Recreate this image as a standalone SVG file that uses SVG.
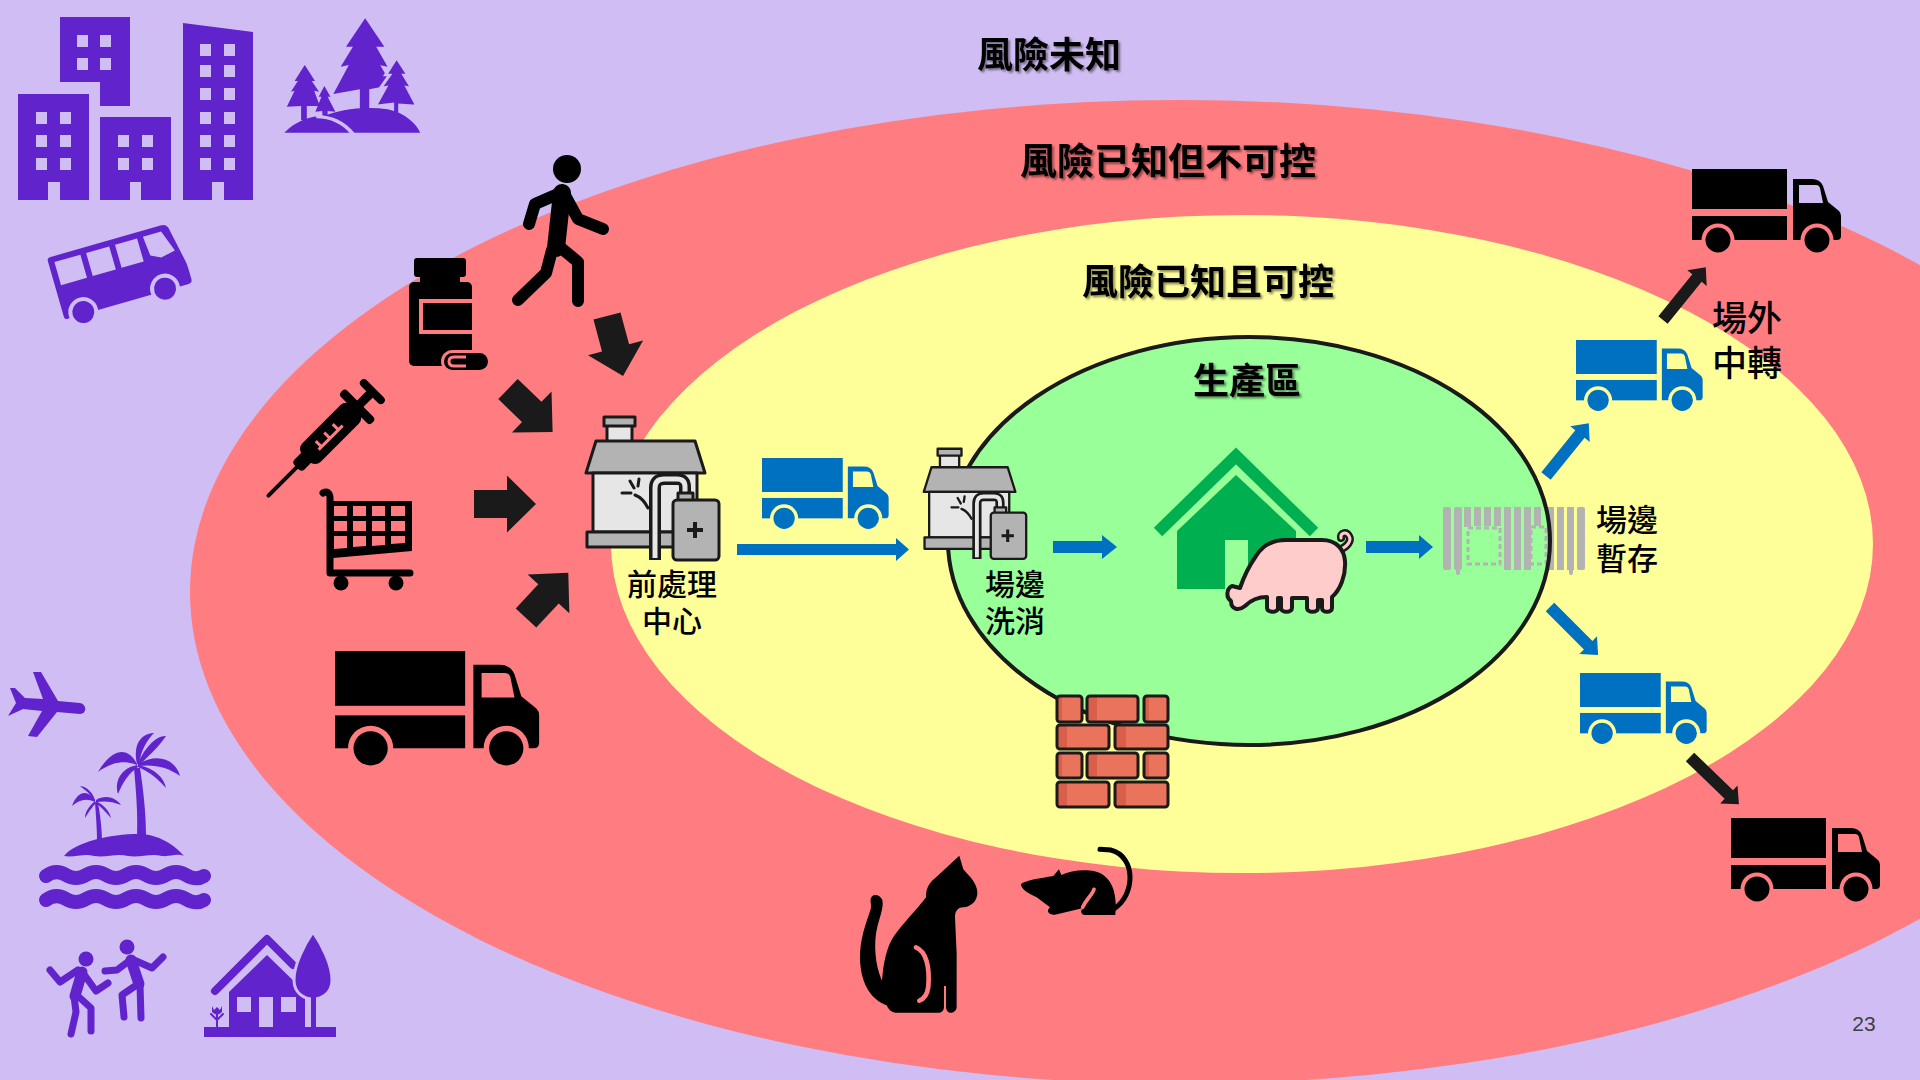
<svg xmlns="http://www.w3.org/2000/svg" width="1920" height="1080" viewBox="0 0 1920 1080">
<defs>
<style>
.zone-label{font-family:"Noto Sans CJK TC","Noto Sans CJK SC",sans-serif;font-weight:700;fill:#000;text-anchor:middle;filter:url(#soft-shadow)}
.node-label{font-family:"Noto Sans CJK TC","Noto Sans CJK SC",sans-serif;font-weight:500;fill:#000;text-anchor:middle}
.purple{fill:#6023cc}
.purple-line{fill:none;stroke:#6023cc;stroke-linecap:round;stroke-linejoin:round}
.lav{fill:#d0bdf3}
.ink{fill:#000}
.ink-line{fill:none;stroke:#000;stroke-linecap:round;stroke-linejoin:round}
.blue{fill:#0070c0}
.dark{fill:#1a1a1a}
.brick{fill:url(#brick-fill);stroke:#1a1a1a;stroke-width:3}
</style>
<filter id="soft-shadow" x="-10%" y="-30%" width="130%" height="170%">
<feDropShadow dx="2" dy="2" stdDeviation="1.3" flood-color="#000" flood-opacity="0.45"/>
</filter>
<linearGradient id="brick-fill" x1="0" y1="0" x2="1" y2="0">
<stop offset="0" stop-color="#d95f4b"/><stop offset="0.2" stop-color="#d95f4b"/>
<stop offset="0.2" stop-color="#ea735c"/><stop offset="1" stop-color="#ea735c"/>
</linearGradient>
<!-- truck: window and wheel wells are cut out so the ground shows through -->
<mask id="truck-cut" maskUnits="userSpaceOnUse" x="-20" y="-20" width="200" height="120">
<rect x="-20" y="-20" width="200" height="120" fill="#fff"/>
<path d="M107,16 H124 Q127,16 128,19 L131,34 H107 Z" fill="#000"/>
<circle cx="26" cy="71" r="16.5" fill="#000"/>
<circle cx="125" cy="71" r="16.5" fill="#000"/>
</mask>
<g id="truck">
<g mask="url(#truck-cut)">
<rect x="0" y="0" width="95" height="40"/>
<rect x="0" y="47" width="95" height="24"/>
<path d="M101,10 H120 Q128,10 131,17 L136,33 L147,42 Q149,44 149,47 V67 Q149,71 145,71 H101 Z"/>
</g>
<circle cx="26" cy="71" r="12.5"/>
<circle cx="125" cy="71" r="12.5"/>
</g>
<!-- disinfection station: house with spray tank -->
<g id="clinic" stroke="#1a1a1a" stroke-width="3" stroke-linejoin="round">
<rect x="22" y="9" width="25" height="25" fill="#e6e6e6"/>
<rect x="19" y="1" width="31" height="9" fill="#b3b3b3"/>
<polygon points="1,57 11,25 110,25 120,57" fill="#b3b3b3"/>
<rect x="8" y="57" width="104" height="59" fill="#e6e6e6"/>
<rect x="2" y="116" width="116" height="15" fill="#b3b3b3"/>
<path d="M70,144 V72 Q70,63 79,63 H92 Q100,63 100,71 V80" fill="none" stroke-width="12"/>
<path d="M70,142 V72 Q70,63 79,63 H92 Q100,63 100,71 V80" fill="none" stroke="#e6e6e6" stroke-width="5"/>
<path d="M45,65 L49,72 M37,77 L46,77 M54,63 L53,70 M50,79 Q58,82 63,92" fill="none" stroke-linecap="round"/>
<rect x="93" y="77" width="15" height="8" fill="#b3b3b3"/>
<rect x="88" y="84" width="46" height="60" rx="4" fill="#b3b3b3"/>
<path d="M110,106 V122 M102,114 H118" fill="none" stroke-width="4"/>
</g>
<path id="big-arrow" d="M0,-14 H33 V-28.5 L62,0 L33,28.5 V14 H0 Z"/>
<path id="thin-arrow" d="M0,-6 H54 V-12.5 L68,0 L54,12.5 V6 H0 Z"/>
</defs>

<!-- risk zones -->
<rect width="1920" height="1080" fill="#d0bdf3"/>
<ellipse id="zone-unknown-known" cx="1180" cy="592" rx="990" ry="492" fill="#ff7c80"/>
<ellipse id="zone-controlled" cx="1242" cy="544" rx="631" ry="329" fill="#ffff99"/>
<ellipse id="zone-production-fill" cx="1249" cy="541" rx="301" ry="204" fill="#99ff99"/>

<!-- holding fence -->
<g id="holding-fence" fill="#b3b3b3">
<rect x="1443" y="507" width="8" height="63" rx="2"/>
<rect x="1454" y="507" width="8" height="63" rx="2"/>
<rect x="1456" y="565" width="4" height="10" rx="2"/>
<rect x="1464" y="507" width="7" height="20"/>
<rect x="1474" y="507" width="7" height="19"/>
<rect x="1484" y="507" width="7" height="19"/>
<rect x="1494" y="507" width="7" height="19"/>
<rect x="1504" y="507" width="7" height="63"/>
<rect x="1514" y="507" width="7" height="63"/>
<rect x="1524" y="507" width="7" height="63"/>
<rect x="1534" y="507" width="7" height="19"/>
<rect x="1547" y="507" width="7" height="63"/>
<rect x="1557" y="507" width="7" height="63"/>
<rect x="1567" y="507" width="7" height="63"/>
<rect x="1569" y="565" width="4" height="10" rx="2"/>
<rect x="1577" y="507" width="8" height="63" rx="2"/>
<rect x="1468" y="528" width="32" height="36" fill="none" stroke="#b3b3b3" stroke-width="3" stroke-dasharray="5 3"/>
<rect x="1531" y="527" width="15" height="37" fill="none" stroke="#b3b3b3" stroke-width="3" stroke-dasharray="5 3"/>
</g>

<ellipse id="zone-production-edge" cx="1249" cy="541" rx="301" ry="204" fill="none" stroke="#1a1a1a" stroke-width="4"/>

<!-- outside world (purple) -->
<g id="buildings" class="purple">
<path d="M60,17 H130 V106 H100 V82 H60 Z"/>
<path d="M18,94 H89 V200 H60 V182 H48 V200 H18 Z"/>
<path d="M100,117 H171 V200 H141 V182 H130 V200 H100 Z"/>
<path d="M183,23 L253,32 V200 H224 V182 H212 V200 H183 Z"/>
<g class="lav">
<rect x="77" y="35" width="11" height="12"/><rect x="100" y="35" width="11" height="12"/>
<rect x="77" y="58" width="11" height="12"/><rect x="100" y="58" width="11" height="12"/>
<rect x="36" y="112" width="11" height="12"/><rect x="60" y="112" width="11" height="12"/>
<rect x="36" y="135" width="11" height="12"/><rect x="60" y="135" width="11" height="12"/>
<rect x="36" y="158" width="11" height="12"/><rect x="60" y="158" width="11" height="12"/>
<rect x="118" y="135" width="11" height="12"/><rect x="142" y="135" width="11" height="12"/>
<rect x="118" y="158" width="11" height="12"/><rect x="142" y="158" width="11" height="12"/>
<rect x="200" y="44" width="11" height="12"/><rect x="224" y="44" width="11" height="12"/>
<rect x="200" y="65" width="11" height="12"/><rect x="224" y="65" width="11" height="12"/>
<rect x="200" y="88" width="11" height="12"/><rect x="224" y="88" width="11" height="12"/>
<rect x="200" y="112" width="11" height="12"/><rect x="224" y="112" width="11" height="12"/>
<rect x="200" y="135" width="11" height="12"/><rect x="224" y="135" width="11" height="12"/>
<rect x="200" y="158" width="11" height="12"/><rect x="224" y="158" width="11" height="12"/>
</g>
</g>

<g id="forest" class="purple" transform="scale(0.408,0.3333)">
<path d="M895,55 L942,140 L922,140 L950,200 L932,196 L960,255 L905,268 L905,330 L882,330 L882,268 L817,282 L855,195 L835,200 L865,140 L848,140 Z"/>
<path d="M972,172 L1000,225 L990,225 L1010,265 L998,262 L1022,318 L980,315 L980,345 L962,345 L962,312 L920,318 L945,262 L932,265 L955,225 L945,225 Z" stroke="#d0bdf3" stroke-width="8"/>
<path d="M747,195 L772,243 L764,243 L782,275 L770,272 L784,318 L752,318 L752,360 L738,360 L738,318 L703,320 L722,272 L713,275 L730,243 L722,243 Z"/>
<path d="M795,258 L810,290 L803,290 L822,335 L803,333 L803,355 L790,355 L790,333 L773,335 L788,290 L781,290 Z"/>
<path d="M697,398 C725,362 765,346 795,348 C830,330 890,318 950,328 C995,340 1020,372 1030,398 Z"/>
<path d="M775,350 C815,350 845,372 865,402" fill="none" stroke="#d0bdf3" stroke-width="10"/>
</g>

<g id="bus" transform="translate(47,258) rotate(-16)">
<path class="purple" d="M3,0 H118 Q123,0 125,4 L132,40 Q133,44 133,50 V60 Q133,64 129,64 H3 Q0,64 0,61 V3 Q0,0 3,0 Z"/>
<g class="lav">
<rect x="6" y="6" width="27" height="24"/>
<rect x="39" y="6" width="24" height="24"/>
<rect x="69" y="6" width="23" height="24"/>
<path d="M98,6 H117 L125,28 L110,31 L100,26 Z"/>
<circle cx="20" cy="62" r="15"/>
<circle cx="105" cy="62" r="15"/>
</g>
<circle class="purple" cx="20" cy="62" r="11"/>
<circle class="purple" cx="105" cy="62" r="11"/>
</g>

<g id="airplane" class="purple">
<path d="M8,716 L16,703 L10,688 L15,688 L25,698 L43,699 L33,672 L41,672 L58,701 L80,703 C87,704 87,714 80,714 L57,712 L37,737 L28,736 L42,711 L23,709 Z"/>
</g>

<g id="island" class="purple">
<path d="M134,768 C136,790 138,815 137,836 L146,836 C146,812 143,788 140,768 Z"/>
<path d="M137,764 C128,746 112,748 98,772 C112,762 124,760 137,765 Z"/>
<path d="M137,765 C122,768 114,780 118,794 C123,782 129,773 138,767 Z"/>
<path d="M137,764 C133,745 140,734 154,733 C146,741 141,751 139,764 Z"/>
<path d="M138,763 C146,745 158,735 166,736 C160,745 150,755 139,765 Z"/>
<path d="M138,764 C158,752 176,760 180,776 C168,767 154,764 138,766 Z"/>
<path d="M138,765 C155,768 164,778 166,788 C158,779 150,772 138,767 Z"/>
<path d="M95,803 C96,815 97,830 97,842 L102,842 C102,828 100,814 98,803 Z"/>
<path d="M95,800 C88,790 78,790 72,806 C80,799 87,798 95,802 Z"/>
<path d="M95,800 C92,790 84,786 80,786 C88,792 92,796 95,802 Z"/>
<path d="M96,800 C106,794 116,798 121,805 C112,801 104,801 96,802 Z"/>
<path d="M96,801 C104,805 110,812 111,818 C105,811 100,806 96,803 Z"/>
<path d="M95,801 C89,806 85,812 85,818 C90,810 93,806 96,803 Z"/>
<path d="M64,856 C75,842 110,834 139,834 C158,834 175,845 184,856 C176,853 170,857 162,856 C150,853 140,858 128,856 C116,853 106,858 94,856 C84,853 74,858 64,856 Z"/>
<path class="purple-line" stroke-width="14" stroke-linecap="butt" d="M46,876 Q56,869 66,875 Q76,881 86,875 Q96,869 106,875 Q116,881 126,875 Q136,869 146,875 Q156,881 166,875 Q176,869 186,875 Q196,881 204,876"/>
<path class="purple-line" stroke-width="14" stroke-linecap="butt" d="M46,900 Q56,893 66,899 Q76,905 86,899 Q96,893 106,899 Q116,905 126,899 Q136,893 146,899 Q156,905 166,899 Q176,893 186,899 Q196,905 204,900"/>
</g>

<g id="dancers">
<circle class="purple" cx="86" cy="959" r="7.5"/>
<path class="purple-line" stroke-width="11" d="M82,972 L75,996"/>
<path class="purple-line" stroke-width="7" d="M78,970 L60,982 L50,970 M83,973 L96,991 L108,983 M74,996 L76,1012 L71,1034 M80,998 L91,1008 L91,1031"/>
<circle class="purple" cx="127" cy="947" r="7.5"/>
<path class="purple-line" stroke-width="11" d="M131,960 L139,984"/>
<path class="purple-line" stroke-width="7" d="M129,961 L117,970 L105,971 M134,960 L152,968 L163,957 M138,984 L122,995 L124,1017 M140,985 L141,1018"/>
</g>

<g id="country-house" class="purple">
<rect x="204" y="1027" width="132" height="10"/>
<path class="purple-line" stroke-width="8" stroke-linecap="butt" stroke-linejoin="miter" d="M215,991 L267,939 L293,965"/>
<path d="M229,1027 V992 L267,955 L305,992 V1027 Z"/>
<rect class="lav" x="237" y="997" width="14" height="15"/>
<rect class="lav" x="259" y="997" width="14" height="30"/>
<rect class="lav" x="281" y="997" width="15" height="15"/>
<path d="M313,932 C322,945 332,965 332,980 C332,993 322,999 313,999 C304,999 294,993 294,980 C294,965 304,945 313,932 Z" stroke="#d0bdf3" stroke-width="3"/>
<rect x="311" y="997" width="5" height="31"/>
<path class="purple-line" stroke-width="2" d="M217,1027 V1010 M217,1020 L211,1014 M217,1020 L223,1014"/>
<path d="M212,1006 L214,1010 L217,1007 L220,1010 L222,1006 L222,1012 Q217,1017 212,1012 Z"/>
</g>

<!-- known but uncontrolled risks (black) -->
<g id="walker" class="ink-line">
<circle class="ink" cx="567" cy="169" r="14" stroke="none"/>
<path stroke="#000" stroke-width="18" d="M562,193 L556,248"/>
<path stroke="#000" stroke-width="12" d="M558,194 L535,204 L529,224 M566,197 L578,219 L603,229 M560,247 L578,262 L578,301 M552,250 L546,273 L518,300"/>
</g>

<g id="medicine-bottle">
<rect class="ink" x="414" y="258" width="52" height="19" rx="3"/>
<rect class="ink" x="420" y="276" width="40" height="8"/>
<rect class="ink" x="409" y="282" width="63" height="84" rx="5"/>
<rect x="421" y="301" width="56" height="31" fill="none" stroke="#ff7c80" stroke-width="4"/>
<rect x="441" y="350" width="50" height="23" rx="11.5" fill="#ff7c80"/>
<rect class="ink" x="444" y="353" width="44" height="17" rx="8.5"/>
<path d="M466,357 H454 Q449,357 449,361.5 Q449,366 454,366 H466" fill="none" stroke="#ff7c80" stroke-width="3"/>
</g>

<g id="syringe" class="ink" transform="translate(267,497) rotate(-45)">
<rect x="0" y="-2" width="46" height="4" rx="2"/>
<rect x="42" y="-7" width="16" height="14" rx="4"/>
<rect x="55" y="-13" width="70" height="26" rx="8"/>
<path d="M70,3 H104 M74,3 V-5 M86,3 V-5 M98,3 V-5" fill="none" stroke="#ff7c80" stroke-width="3"/>
<rect x="123" y="-22" width="9" height="44" rx="4"/>
<rect x="131" y="-4.5" width="16" height="9"/>
<rect x="145" y="-16" width="8" height="32" rx="4"/>
</g>

<g id="shopping-cart">
<path class="ink-line" stroke-width="7" d="M323,493 Q329,490 330,497 V573 H410"/>
<path class="ink" d="M330,501 H412 V551 L333,558 Z"/>
<g fill="#ff7c80">
<rect x="334" y="506" width="13" height="10"/><rect x="353" y="506" width="13" height="10"/><rect x="372" y="506" width="13" height="10"/><rect x="391" y="506" width="14" height="10"/>
<rect x="334" y="521" width="13" height="10"/><rect x="353" y="521" width="13" height="10"/><rect x="372" y="521" width="13" height="10"/><rect x="391" y="521" width="14" height="10"/>
<path d="M334,536 H347 V548 L334,549 Z M353,536 H366 V546 L353,547 Z M372,536 H385 V545 L372,546 Z M391,536 H405 V543 L391,544 Z"/>
</g>
<circle class="ink" cx="341" cy="583" r="7.5"/>
<circle class="ink" cx="396" cy="583" r="7.5"/>
</g>

<use id="truck-in" href="#truck" fill="#000" transform="translate(335,651) scale(1.37)"/>
<use id="truck-out-upper" href="#truck" fill="#000" transform="translate(1692,169)"/>
<use id="truck-out-lower" href="#truck" fill="#000" transform="translate(1731,818)"/>

<g id="cat" class="ink" transform="translate(820,660) scale(0.3333)">
<path d="M418,587 L430,628 C450,650 470,670 472,695 C474,720 455,740 430,742 C415,742 405,752 405,772 L410,880 L410,1040 C410,1052 400,1058 392,1058 C384,1058 378,1050 378,1040 L378,978 L372,978 L372,1040 C372,1052 364,1058 355,1058 L228,1058 C214,1058 205,1048 200,1036 C158,1020 124,980 120,900 C118,840 138,790 152,748 C156,734 148,722 154,712 C161,700 180,704 187,720 C192,740 180,770 172,800 C160,850 165,915 186,962 C190,910 200,860 222,828 C250,788 290,750 318,712 C318,688 324,672 345,655 Z"/>
<path d="M288,862 C318,874 330,920 325,980 C322,1004 312,1017 298,1022" fill="none" stroke="#ff7c80" stroke-width="14" stroke-linecap="round"/>
</g>

<g id="rat" transform="translate(820,660) scale(0.3333)">
<path class="ink" d="M603,672 C620,660 660,655 700,648 L717,628 L724,645 C760,628 820,625 850,645 C880,665 892,710 886,765 L795,765 C782,765 780,750 790,744 L705,764 C688,766 676,754 690,742 L650,712 C625,700 603,688 603,672 Z"/>
<path d="M884,745 C945,705 950,590 872,570 L840,568" fill="none" stroke="#000" stroke-width="15" stroke-linecap="round"/>
<path d="M822,688 C816,706 800,716 788,742" fill="none" stroke="#ff7c80" stroke-width="11" stroke-linecap="round"/>
</g>

<!-- controlled zone (yellow) -->
<use id="pre-treatment-center" href="#clinic" transform="translate(585,416)"/>
<use id="truck-transfer" href="#truck" fill="#0070c0" transform="translate(762,458) scale(0.85)"/>
<use id="truck-side-upper" href="#truck" fill="#0070c0" transform="translate(1576,340) scale(0.85)"/>
<use id="truck-side-lower" href="#truck" fill="#0070c0" transform="translate(1580,673) scale(0.85)"/>

<!-- production zone -->
<use id="farm-gate-wash" href="#clinic" transform="translate(923,448) scale(0.77)"/>

<g id="barn" fill="#00b050">
<path d="M1158,532 L1236,456 L1314,532" fill="none" stroke="#00b050" stroke-width="12"/>
<path d="M1177,589 V531 L1236,475 L1296,531 V589 Z"/>
<rect x="1225" y="540" width="23" height="49" fill="#99ff99"/>
</g>

<g id="pig">
<path d="M1339,550 C1347,547 1352,541 1349,536 C1346,531 1340,533 1341,538" fill="none" stroke="#1a1a1a" stroke-width="8" stroke-linecap="round"/>
<path d="M1339,550 C1347,547 1352,541 1349,536 C1346,531 1340,533 1341,538" fill="none" stroke="#ffcccc" stroke-width="3" stroke-linecap="round"/>
<path fill="#ffcccc" stroke="#1a1a1a" stroke-width="4" stroke-linejoin="round" d="M1231,601 C1226,598 1226,589 1232,586 L1240,588 C1244,576 1249,566 1256,556 C1262,546 1272,540 1286,540 L1322,540 C1336,540 1344,549 1345,561 C1346,576 1340,590 1332,597 L1332,608 C1332,613 1322,613 1322,608 L1322,600 L1318,600 L1318,608 C1318,613 1307,613 1307,608 L1307,598 L1292,598 L1292,608 C1292,613 1281,613 1281,608 L1281,598 L1278,598 L1278,608 C1278,613 1267,613 1267,608 L1267,597 C1259,597 1251,600 1245,606 C1239,611 1231,610 1231,601 Z"/>
</g>

<g id="brick-wall">
<rect class="brick" x="1057" y="696" width="25" height="26" rx="3"/>
<rect class="brick" x="1087" y="696" width="51" height="26" rx="3"/>
<rect class="brick" x="1144" y="696" width="24" height="26" rx="3"/>
<rect class="brick" x="1057" y="725" width="52" height="24" rx="3"/>
<rect class="brick" x="1115" y="725" width="53" height="24" rx="3"/>
<rect class="brick" x="1057" y="753" width="25" height="25" rx="3"/>
<rect class="brick" x="1087" y="753" width="51" height="25" rx="3"/>
<rect class="brick" x="1144" y="753" width="24" height="25" rx="3"/>
<rect class="brick" x="1057" y="782" width="52" height="25" rx="3"/>
<rect class="brick" x="1115" y="782" width="53" height="25" rx="3"/>
</g>

<!-- connectors -->
<g id="connectors">
<use class="dark" href="#big-arrow" transform="translate(607,316) rotate(75)"/>
<use class="dark" href="#big-arrow" transform="translate(508,389) rotate(44)"/>
<use class="dark" href="#big-arrow" transform="translate(474,504)"/>
<use class="dark" href="#big-arrow" transform="translate(526,618) rotate(-47)"/>
<path class="blue" d="M737,544 H896 V538 L909,549.5 L896,561 V555 H737 Z"/>
<path class="blue" d="M1053,541 H1102 V535 L1117,547 L1102,559 V553 H1053 Z"/>
<path class="blue" d="M1366,541 H1419 V535 L1433,547 L1419,559 V553 H1366 Z"/>
<use class="blue" href="#thin-arrow" transform="translate(1546,476) rotate(-51)"/>
<use class="blue" href="#thin-arrow" transform="translate(1550,607) rotate(45)"/>
<use class="dark" href="#thin-arrow" transform="translate(1663,320) rotate(-51)"/>
<use class="dark" href="#thin-arrow" transform="translate(1690,757) rotate(44)"/>
</g>

<!-- labels -->
<g id="labels">
<text class="zone-label" x="1049" y="68" font-size="36">風險未知</text>
<text class="zone-label" x="1168" y="175" font-size="37">風險已知但不可控</text>
<text class="zone-label" x="1208" y="295" font-size="36">風險已知且可控</text>
<text class="zone-label" x="1247" y="394" font-size="36">生產區</text>
<text class="node-label" x="672" y="595" font-size="30"><tspan x="672">前處理</tspan><tspan x="672" dy="37">中心</tspan></text>
<text class="node-label" x="1015" y="595" font-size="30"><tspan x="1015">場邊</tspan><tspan x="1015" dy="37">洗消</tspan></text>
<text class="node-label" x="1627" y="531" font-size="31"><tspan x="1627">場邊</tspan><tspan x="1627" dy="39">暫存</tspan></text>
<text class="node-label" x="1747" y="331" font-size="35"><tspan x="1747">場外</tspan><tspan x="1747" dy="45">中轉</tspan></text>
<text x="1864" y="1031" font-family="Liberation Sans, sans-serif" font-size="21" fill="#404040" text-anchor="middle">23</text>
</g>
</svg>
